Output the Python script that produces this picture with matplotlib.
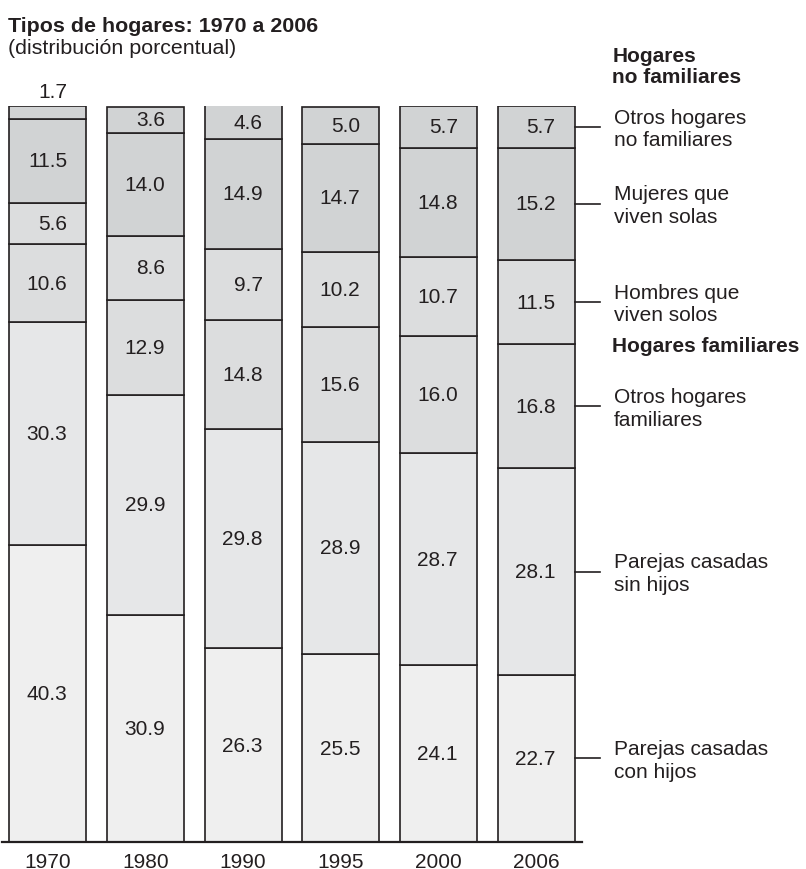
import matplotlib
matplotlib.use("Agg")
import matplotlib.pyplot as plt
import numpy as np

plt.rcParams["font.family"] = ["Liberation Sans", "DejaVu Sans"]

years = ["1970", "1980", "1990", "1995", "2000", "2006"]
con_hijos = [40.3, 30.9, 26.3, 25.5, 24.1, 22.7]
sin_hijos = [30.3, 29.9, 29.8, 28.9, 28.7, 28.1]
otros_familiares = [10.6, 12.9, 14.8, 15.6, 16.0, 16.8]
hombres_solos = [5.6, 8.6, 9.7, 10.2, 10.7, 11.5]
mujeres_solas = [11.5, 14.0, 14.9, 14.7, 14.8, 15.2]
otros_no_familiares = [1.7, 3.6, 4.6, 5.0, 5.7, 5.7]

series = [con_hijos, sin_hijos, otros_familiares, hombres_solos, mujeres_solas, otros_no_familiares]
series_labels = [
    "Parejas casadas\ncon hijos",
    "Parejas casadas\nsin hijos",
    "Otros hogares\nfamiliares",
    "Hombres que\nviven solos",
    "Mujeres que\nviven solas",
    "Otros hogares\nno familiares",
]
colors = ["#efefef", "#e6e7e8", "#dcddde", "#dcddde", "#d1d3d4", "#d1d3d4"]
EDGE = "#231f20"
FS = 15

fig = plt.figure(figsize=(8.06, 8.70), dpi=100)
ax = fig.add_axes([2 / 806, 27 / 870, 580 / 806, 736 / 870])
ax.set_xlim(-0.47, 5.47)
ax.set_ylim(0, 100)
ax.axis("off")

x = np.arange(len(years))
width = 0.79
bottom = np.zeros(len(years))
for values, color in zip(series, colors):
    vals = np.array(values)
    ax.bar(x, vals, width, bottom=bottom, color=color, edgecolor=EDGE, linewidth=1.2)
    for xi, b, v in zip(x, bottom, vals):
        if v < 3:
            ax.text(xi + 0.2, b + v + 2.0, f"{v:.1f}", ha="right", va="center",
                    fontsize=FS, color=EDGE, clip_on=False)
        else:
            ax.text(xi + 0.2, b + v / 2, f"{v:.1f}", ha="right", va="center",
                    fontsize=FS, color=EDGE)
    bottom = bottom + vals

# baseline
ax.plot([-0.47, 5.47], [0, 0], color=EDGE, linewidth=1.6, clip_on=False)

# year labels
for xi, yr in zip(x, years):
    ax.text(xi, -2.6, yr, ha="center", va="center", fontsize=FS, color=EDGE, clip_on=False)

# right-side labels with leader lines for the last bar
last = len(years) - 1
b = 0.0
for values, label in zip(series, series_labels):
    v = values[last]
    yc = b + v / 2
    ax.plot([last + width / 2, last + 0.656], [yc, yc], color=EDGE, linewidth=1.2, clip_on=False)
    ax.text(last + 0.80, yc - 0.2, label, ha="left", va="center", fontsize=FS,
            linespacing=1.25, color=EDGE, clip_on=False)
    b += v

ax.text(last + 0.78, 105.4, "Hogares\nno familiares", ha="left", va="center", fontsize=FS,
        fontweight="bold", linespacing=1.15, color=EDGE, clip_on=False)
ax.text(last + 0.78, 67.5, "Hogares familiares", ha="left", va="center", fontsize=FS,
        fontweight="bold", color=EDGE, clip_on=False)

fig.text(8 / 806, 1 - 26 / 870, "Tipos de hogares: 1970 a 2006", ha="left", va="center",
         fontsize=15.4, fontweight="bold", color=EDGE)
fig.text(8 / 806, 1 - 49 / 870, "(distribución porcentual)", ha="left", va="center",
         fontsize=15.4, color=EDGE)

fig.savefig("out.png", dpi=100, facecolor="white")
